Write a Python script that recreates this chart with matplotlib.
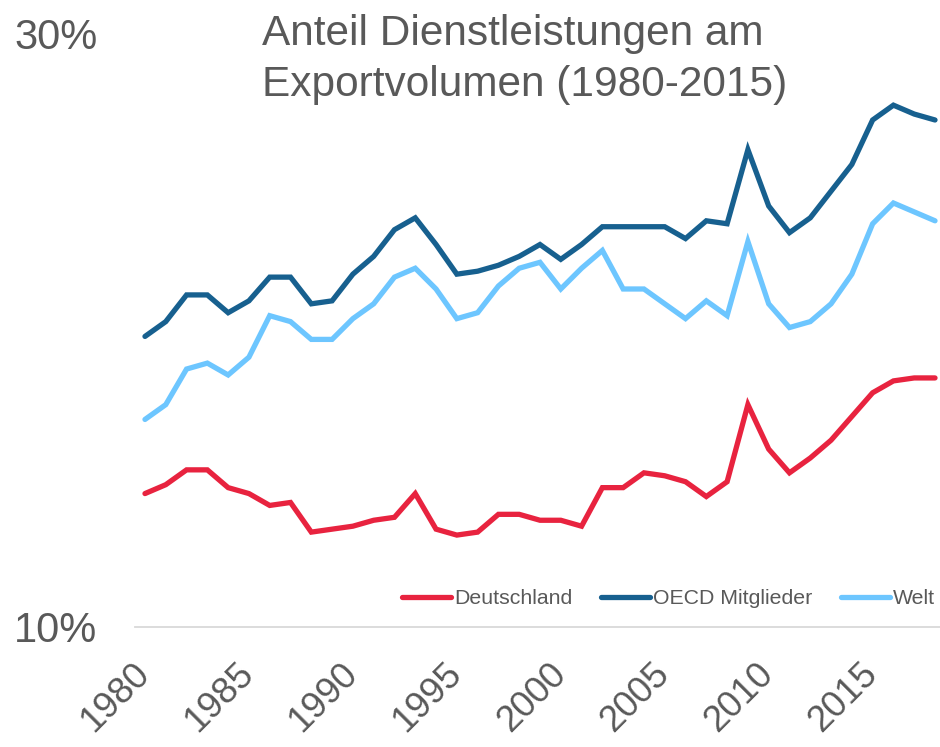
import matplotlib
matplotlib.use("Agg")
import matplotlib.pyplot as plt
from matplotlib.transforms import ScaledTranslation

years = list(range(1980, 2019))
deutschland = [14.5, 14.8, 15.3, 15.3, 14.7, 14.5, 14.1, 14.2, 13.2, 13.3,
               13.4, 13.6, 13.7, 14.5, 13.3, 13.1, 13.2, 13.8, 13.8, 13.6,
               13.6, 13.4, 14.7, 14.7, 15.2, 15.1, 14.9, 14.4, 14.9, 17.5,
               16.0, 15.2, 15.7, 16.3, 17.1, 17.9, 18.3, 18.4, 18.4]
oecd = [19.8, 20.3, 21.2, 21.2, 20.6, 21.0, 21.8, 21.8, 20.9, 21.0,
        21.9, 22.5, 23.4, 23.8, 22.9, 21.9, 22.0, 22.2, 22.5, 22.9,
        22.4, 22.9, 23.5, 23.5, 23.5, 23.5, 23.1, 23.7, 23.6, 26.1,
        24.2, 23.3, 23.8, 24.7, 25.6, 27.1, 27.6, 27.3, 27.1]
welt = [17.0, 17.5, 18.7, 18.9, 18.5, 19.1, 20.5, 20.3, 19.7, 19.7,
        20.4, 20.9, 21.8, 22.1, 21.4, 20.4, 20.6, 21.5, 22.1, 22.3,
        21.4, 22.1, 22.7, 21.4, 21.4, 20.9, 20.4, 21.0, 20.5, 23.0,
        20.9, 20.1, 20.3, 20.9, 21.9, 23.6, 24.3, 24.0, 23.7]
series_names = ["Deutschland", "OECD Mitglieder", "Welt"]
colors = ["#E8233F", "#17608F", "#6DC6FF"]
xticks = [1980, 1985, 1990, 1995, 2000, 2005, 2010, 2015]
yticks = [10, 30]
ytick_labels = ["10%", "30%"]
title_lines = ["Anteil Dienstleistungen am", "Exportvolumen (1980-2015)"]

plt.rcParams['font.family'] = ['Liberation Sans', 'DejaVu Sans']
TXT = "#595959"

fig = plt.figure(figsize=(9.4, 7.47), dpi=100)
ax = fig.add_axes([135/940, 120/747, 1 - 135/940, (713-120)/747])

for vals, name, c in zip([deutschland, oecd, welt], series_names, colors):
    ax.plot(years, vals, color=c, lw=3.8, label=name, solid_capstyle='round',
            solid_joinstyle='miter')

ax.set_xlim(1979.52, 2018.24)
ax.set_ylim(10, 30)
ax.set_xticks(xticks)
ax.set_xticklabels([str(x) for x in xticks], rotation=45, ha='right',
                   fontsize=26.5, color=TXT)
ax.set_yticks(yticks)
ax.set_yticklabels(ytick_labels, fontsize=30, color=TXT)
ax.tick_params(axis='x', length=0, pad=24)
ax.tick_params(axis='y', length=0, pad=27)
off = ScaledTranslation(12/100, 4/100, fig.dpi_scale_trans)
for lab in ax.get_xticklabels():
    lab.set_transform(lab.get_transform() + off)
for s in ['top', 'right', 'left']:
    ax.spines[s].set_visible(False)
ax.spines['bottom'].set_color('#D9D9D9')
ax.spines['bottom'].set_linewidth(1.3)
ax.patch.set_alpha(0)

leg = fig.legend(loc='center right', bbox_to_anchor=(935/940, 1 - 599/747),
                 ncol=3, frameon=False, handlelength=2.3,
                 handletextpad=0.14, columnspacing=1.36, borderpad=0,
                 borderaxespad=0,
                 prop={'family': ['Liberation Sans'], 'size': 15.3})
for t in leg.get_texts():
    t.set_color(TXT)

fig.text(262/940, 1 - 45/747, title_lines[0], fontsize=30.5, color=TXT,
         ha='left', va='baseline')
fig.text(262/940, 1 - 96/747, title_lines[1], fontsize=30.5, color=TXT,
         ha='left', va='baseline')

fig.savefig("out.png", dpi=100)
